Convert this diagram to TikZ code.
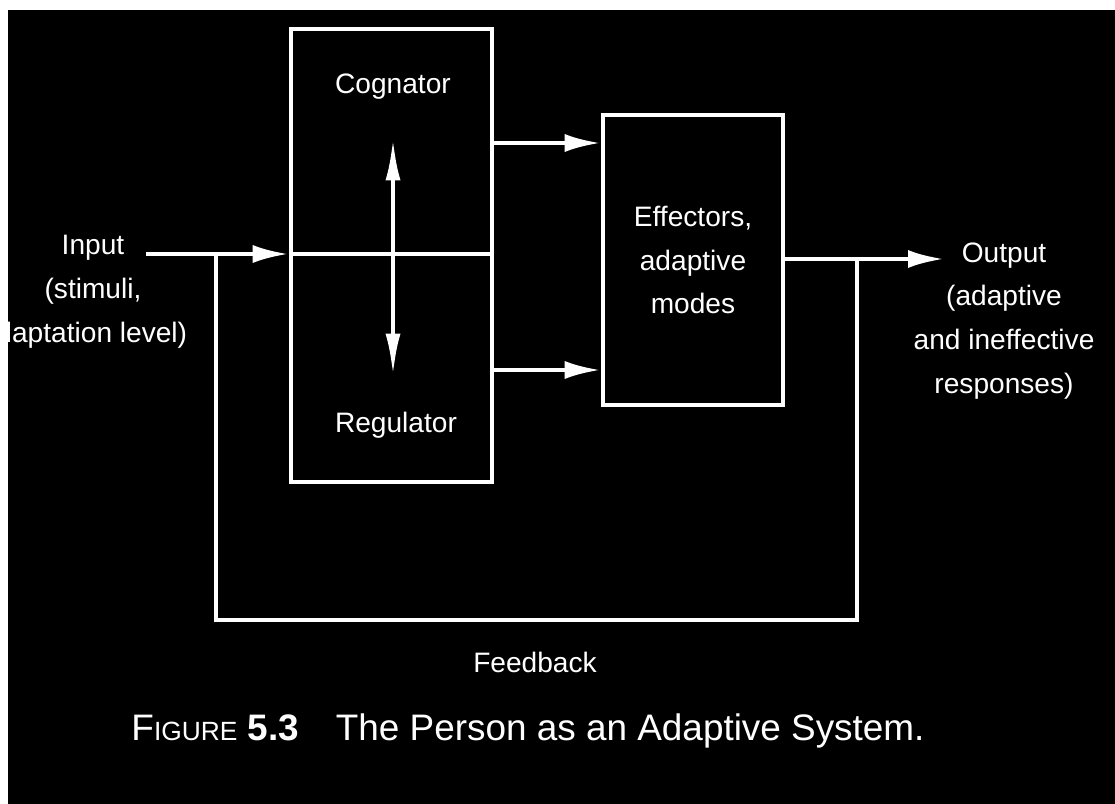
\documentclass[tikz,border=0pt]{standalone}
\usepackage{fontspec}
\setmainfont{Liberation Sans}
\usetikzlibrary{arrows.meta}

\tikzset{
    blk/.style={draw=white, line width=2.6pt},
    lbl/.style={text=white, font=\fontsize{16}{25}\selectfont, align=center, inner sep=0pt},
    wire/.style={white, line width=2.6pt},
    arr/.style={wire, -{Latex[length=0.72cm, width=0.36cm]}},
    dblarr/.style={wire, {Latex[length=0.85cm, width=0.3cm]}-{Latex[length=0.85cm, width=0.3cm]}},
}

\begin{document}
\begin{tikzpicture}[x=0.02cm, y=-0.02cm]
    \fill[black] (0,0) rectangle (1115,804);
    \useasboundingbox (0,0) rectangle (1115,804);

    \node[blk, minimum width=4.02cm, minimum height=9.06cm] (cr) at (391.5,255.5) {};
    \node[blk, lbl, minimum width=3.6cm, minimum height=5.8cm] (eff) at (693,260) {Effectors,\\adaptive\\modes};

    \node[lbl] (cog) at (393,87) {Cognator};
    \node[lbl] (reg) at (396,425) {Regulator};
    \node[lbl] (inp) at (93,292) {Input\\(stimuli,\\adaptation level)\kern0.36cm};
    \node[lbl] (outp) at (1004,321) {Output\\(adaptive\\and ineffective\\responses)};
    \node[lbl] (fbk) at (535,662) {Feedback};
    \node[text=white, font=\fontsize{21}{25}\selectfont] (cap) at (528,731)
        {F{\fontsize{15}{18}\selectfont IGURE} \textbf{5.3}\quad The Person as an Adaptive System.};

    % input through the first block
    \coordinate (inbeg) at (146,254);
    \draw[arr] (inbeg) -- (cr.west |- inbeg);
    \draw[wire] (cr.west |- inbeg) -- (cr.east |- inbeg);

    \coordinate (vtop) at (393,138);
    \coordinate (vbot) at (393,376);
    \draw[dblarr] (vtop) -- (vbot);

    \coordinate (hiA) at (493,143);
    \coordinate (loA) at (493,370);
    \draw[arr] (cr.east |- hiA) -- (eff.west |- hiA);
    \draw[arr] (cr.east |- loA) -- (eff.west |- loA);

    % output and feedback loop
    \coordinate (outtip) at (944,259);
    \draw[arr] (eff.east |- outtip) -- (outtip);
    \coordinate (fbR) at (857,259);
    \coordinate (fbL) at (216,254);
    \draw[wire] (fbR) -- (857,620) -| (fbL);

    \fill[white] (0,0) rectangle (1115,10);
    \fill[white] (0,0) rectangle (8,804);
\end{tikzpicture}
\end{document}
